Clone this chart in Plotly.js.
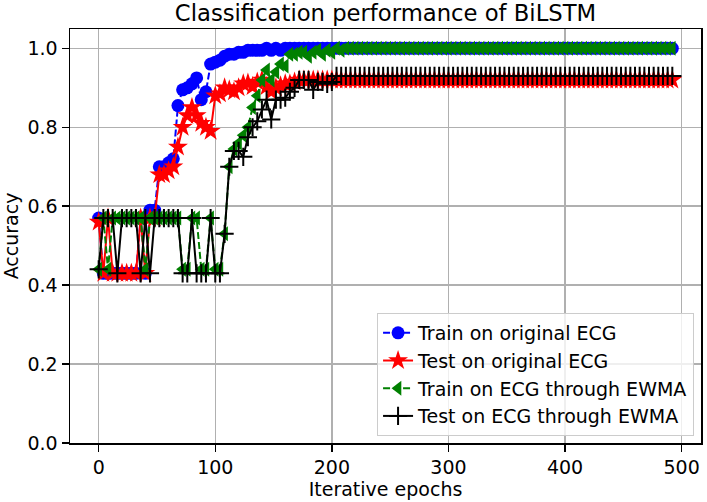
<!DOCTYPE html>
<html>
<head>
<meta charset="utf-8">
<script src="https://cdn.plot.ly/plotly-3.0.1.min.js"></script>
<style>html,body{margin:0;padding:0;background:#fff;}#chart{width:707px;height:502px;}</style>
</head>
<body>
<div id="chart"></div>
<script>
// Iterative epochs (every 4th epoch recorded)
const epochs = [
  0,4,8,12,16,20,24,28,32,36,
  40,44,48,52,56,60,64,68,72,76,
  80,84,88,92,96,100,104,108,112,116,
  120,124,128,132,136,140,144,148,152,156,
  160,164,168,172,176,180,184,188,192,196,
  200,204,208,212,216,220,224,228,232,236,
  240,244,248,252,256,260,264,268,272,276,
  280,284,288,292,296,300,304,308,312,316,
  320,324,328,332,336,340,344,348,352,356,
  360,364,368,372,376,380,384,388,392,396,
  400,404,408,412,416,420,424,428,432,436,
  440,444,448,452,456,460,464,468,472,476,
  480,484,488,492
];
const trainOriginal = [
  0.57,0.43,0.43,0.43,0.43,0.43,0.43,0.43,0.43,0.57,
  0.43,0.59,0.59,0.70,0.70,0.71,0.72,0.855,0.895,0.90,
  0.91,0.925,0.87,0.89,0.96,0.965,0.97,0.98,0.985,0.985,
  0.99,0.99,0.995,0.995,0.995,0.995,1.0,0.995,1.0,0.995,
  1.0,1.0,1.0,1.0,1.0,1.0,1.0,1.0,1.0,1.0,
  1.0,1.0,1.0,1.0,1.0,1.0,1.0,1.0,1.0,1.0,
  1.0,1.0,1.0,1.0,1.0,1.0,1.0,1.0,1.0,1.0,
  1.0,1.0,1.0,1.0,1.0,1.0,1.0,1.0,1.0,1.0,
  1.0,1.0,1.0,1.0,1.0,1.0,1.0,1.0,1.0,1.0,
  1.0,1.0,1.0,1.0,1.0,1.0,1.0,1.0,1.0,1.0,
  1.0,1.0,1.0,1.0,1.0,1.0,1.0,1.0,1.0,1.0,
  1.0,1.0,1.0,1.0,1.0,1.0,1.0,1.0,1.0,1.0,
  1.0,1.0,1.0,1.0
];
const testOriginal = [
  0.56,0.43,0.57,0.43,0.43,0.43,0.43,0.43,0.43,0.57,
  0.43,0.57,0.57,0.68,0.68,0.69,0.70,0.75,0.80,0.83,
  0.85,0.83,0.81,0.80,0.79,0.88,0.885,0.90,0.895,0.89,
  0.90,0.91,0.912,0.903,0.915,0.92,0.903,0.89,0.90,0.905,
  0.91,0.91,0.915,0.92,0.92,0.92,0.92,0.92,0.92,0.92,
  0.92,0.92,0.92,0.92,0.92,0.92,0.92,0.92,0.92,0.92,
  0.92,0.92,0.92,0.92,0.92,0.92,0.92,0.92,0.92,0.92,
  0.92,0.92,0.92,0.92,0.92,0.92,0.92,0.92,0.92,0.92,
  0.92,0.92,0.92,0.92,0.92,0.92,0.92,0.92,0.92,0.92,
  0.92,0.92,0.92,0.92,0.92,0.92,0.92,0.92,0.92,0.92,
  0.92,0.92,0.92,0.92,0.92,0.92,0.92,0.92,0.92,0.92,
  0.92,0.92,0.92,0.92,0.92,0.92,0.92,0.92,0.92,0.92,
  0.92,0.92,0.92,0.92
];
const trainEWMA = [
  0.44,0.57,0.44,0.57,0.57,0.57,0.57,0.57,0.57,0.57,
  0.44,0.57,0.57,0.57,0.57,0.57,0.57,0.57,0.44,0.44,
  0.57,0.57,0.44,0.44,0.57,0.44,0.44,0.53,0.70,0.745,
  0.76,0.78,0.80,0.85,0.88,0.92,0.945,0.92,0.94,0.96,
  0.955,0.985,0.985,0.99,0.99,0.98,0.99,0.995,0.985,0.995,
  0.99,1.0,0.995,1.0,1.0,1.0,1.0,1.0,1.0,1.0,
  1.0,1.0,1.0,1.0,1.0,1.0,1.0,1.0,1.0,1.0,
  1.0,1.0,1.0,1.0,1.0,1.0,1.0,1.0,1.0,1.0,
  1.0,1.0,1.0,1.0,1.0,1.0,1.0,1.0,1.0,1.0,
  1.0,1.0,1.0,1.0,1.0,1.0,1.0,1.0,1.0,1.0,
  1.0,1.0,1.0,1.0,1.0,1.0,1.0,1.0,1.0,1.0,
  1.0,1.0,1.0,1.0,1.0,1.0,1.0,1.0,1.0,1.0,
  1.0,1.0,1.0,1.0
];
const testEWMA = [
  0.44,0.57,0.57,0.57,0.43,0.57,0.57,0.57,0.57,0.43,
  0.57,0.43,0.57,0.57,0.57,0.57,0.57,0.57,0.43,0.43,
  0.57,0.43,0.43,0.43,0.57,0.43,0.43,0.53,0.70,0.74,
  0.74,0.725,0.775,0.80,0.815,0.845,0.87,0.82,0.87,0.87,
  0.875,0.89,0.90,0.92,0.92,0.92,0.895,0.915,0.915,0.91,
  0.915,0.93,0.93,0.93,0.93,0.93,0.93,0.93,0.93,0.93,
  0.93,0.93,0.93,0.93,0.93,0.93,0.93,0.93,0.93,0.93,
  0.93,0.93,0.93,0.93,0.93,0.93,0.93,0.93,0.93,0.93,
  0.93,0.93,0.93,0.93,0.93,0.93,0.93,0.93,0.93,0.93,
  0.93,0.93,0.93,0.93,0.93,0.93,0.93,0.93,0.93,0.93,
  0.93,0.93,0.93,0.93,0.93,0.93,0.93,0.93,0.93,0.93,
  0.93,0.93,0.93,0.93,0.93,0.93,0.93,0.93,0.93,0.93,
  0.93,0.93,0.93,0.93
];
const seriesNames = ['Train on original ECG','Test on original ECG','Train on ECG through EWMA','Test on ECG through EWMA'];
const xTicks = [0,100,200,300,400,500];
const yTicks = [0.0,0.2,0.4,0.6,0.8,1.0];
const yTickText = ['0.0','0.2','0.4','0.6','0.8','1.0'];

const FONT = 'DejaVu Sans, Liberation Sans, sans-serif';

const traces = [
  {x: epochs, y: trainOriginal, name: seriesNames[0], type: 'scatter', mode: 'lines+markers',
   line: {color: '#0000ff', width: 2, dash: '7px,3px'},
   marker: {symbol: 'circle', size: 13, color: '#0000ff'}},
  {x: epochs, y: testOriginal, name: seriesNames[1], type: 'scatter', mode: 'lines+markers',
   line: {color: '#ff0000', width: 2},
   marker: {symbol: 'star', size: 15, color: '#ff0000'}},
  {x: epochs, y: trainEWMA, name: seriesNames[2], type: 'scatter', mode: 'lines+markers',
   line: {color: '#008000', width: 2, dash: '7px,3px'},
   marker: {symbol: 'triangle-left', size: 13, color: '#008000'}},
  {x: epochs, y: testEWMA, name: seriesNames[3], type: 'scatter', mode: 'lines+markers',
   line: {color: '#000000', width: 2},
   marker: {symbol: 'cross-thin-open', size: 13, color: '#000000', line: {width: 2, color: '#000000'}}}
];

const axisCommon = {
  showline: true, linecolor: '#000', linewidth: 1.5, mirror: true,
  ticks: 'outside', ticklen: 7, tickwidth: 1.5, tickcolor: '#000',
  showgrid: true, gridcolor: '#b0b0b0', gridwidth: 1.5, zeroline: false,
  tickfont: {family: FONT, size: 19, color: '#000'}
};

const layout = {
  width: 707, height: 502,
  margin: {l: 70, r: 6, t: 29, b: 59, pad: 0},
  paper_bgcolor: '#fff', plot_bgcolor: '#fff',
  font: {family: FONT, size: 19, color: '#000'},
  title: {text: 'Classification performance of BiLSTM', font: {family: FONT, size: 22.7, color: '#000'},
          x: 0.5, xref: 'paper', xanchor: 'center', y: 0.975, yref: 'container', yanchor: 'middle'},
  xaxis: Object.assign({}, axisCommon, {
    range: [-24.6, 516.6], tickvals: xTicks, ticktext: xTicks.map(String),
    title: {text: 'Iterative epochs', font: {family: FONT, size: 19, color: '#000'}, standoff: 5}
  }),
  yaxis: Object.assign({}, axisCommon, {
    range: [0, 1.049], tickvals: yTicks, ticktext: yTickText,
    title: {text: 'Accuracy', font: {family: FONT, size: 19, color: '#000'}, standoff: 9}
  }),
  showlegend: true,
  legend: {x: 0.989, xanchor: 'right', y: 0.017, yanchor: 'bottom',
           bgcolor: 'rgba(255,255,255,0.8)', bordercolor: '#cccccc', borderwidth: 1,
           font: {family: FONT, size: 19, color: '#000'}, tracegroupgap: 0}
};

Plotly.newPlot('chart', traces, layout, {displayModeBar: false, staticPlot: true});
</script>
</body>
</html>
